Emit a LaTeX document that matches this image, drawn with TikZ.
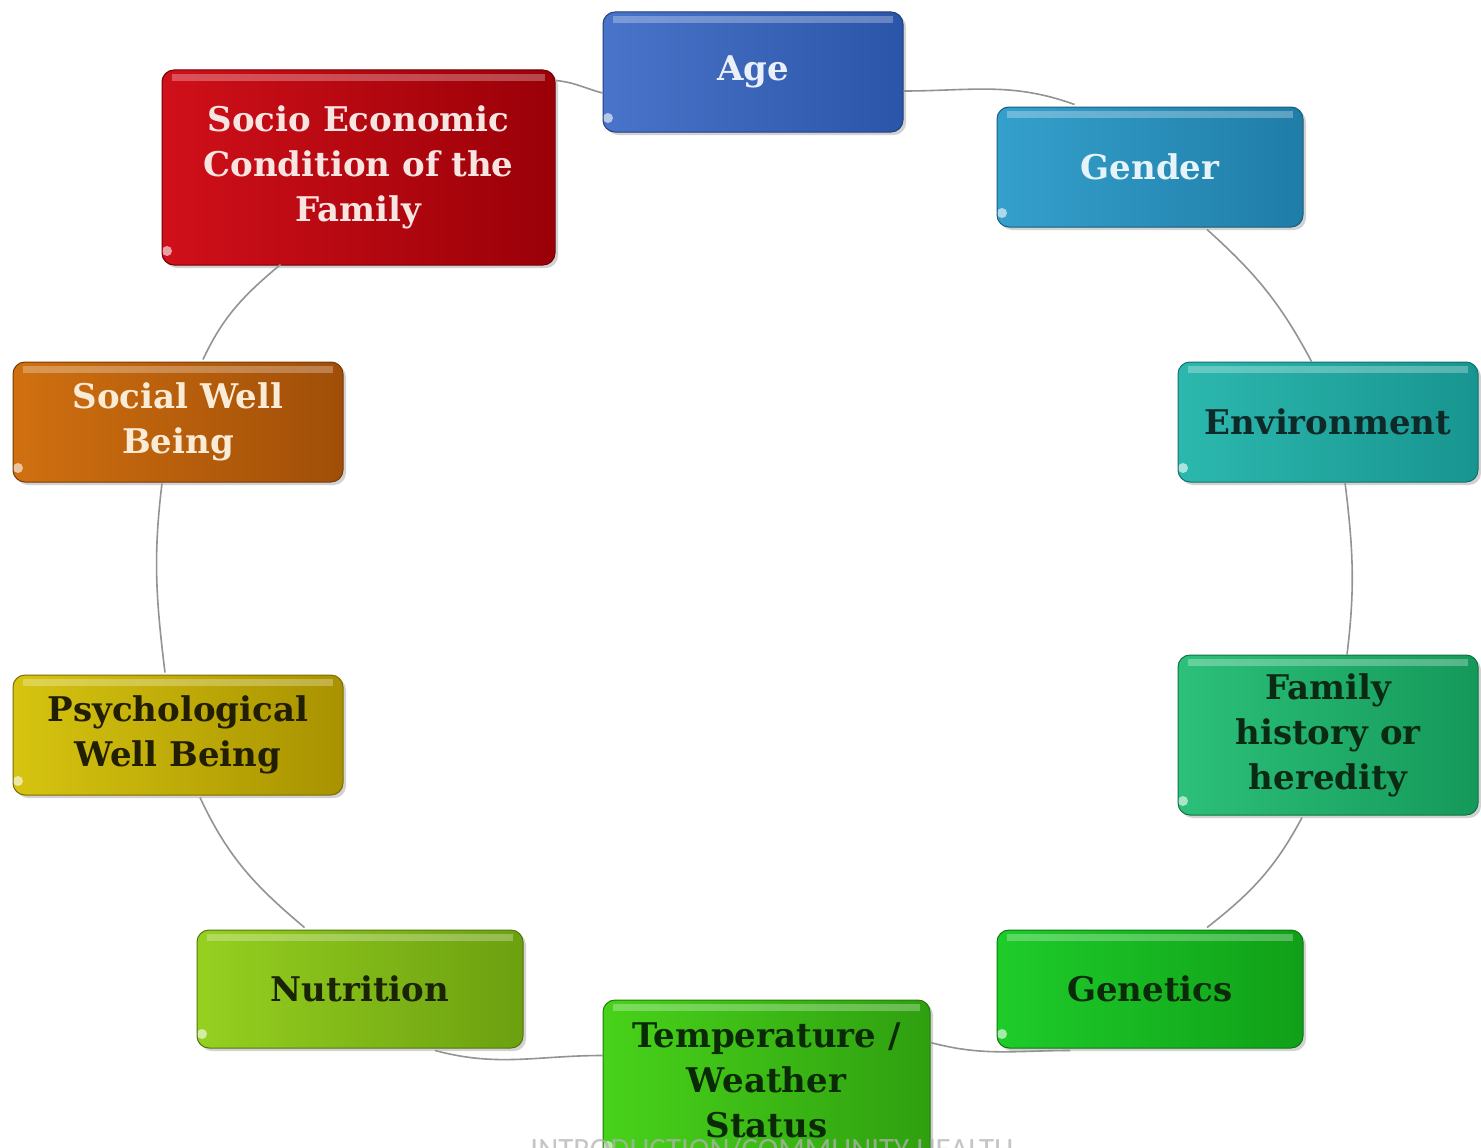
\documentclass[tikz,border=0pt]{standalone}
\usepackage{fontspec}
\setmainfont{DejaVu Serif}
\newfontfamily\calib{Carlito}
\usetikzlibrary{shadows,calc}
\definecolor{ageA}{HTML}{4A74C9}\definecolor{ageB}{HTML}{2B55A8}\definecolor{ageT}{HTML}{EAF0FA}
\definecolor{genA}{HTML}{35A0CC}\definecolor{genB}{HTML}{1F7DA8}\definecolor{genT}{HTML}{E6F4FA}
\definecolor{envA}{HTML}{2CB8AE}\definecolor{envB}{HTML}{189590}\definecolor{envT}{HTML}{0E2A28}
\definecolor{famA}{HTML}{2CC07A}\definecolor{famB}{HTML}{15995A}\definecolor{famT}{HTML}{0A2A14}
\definecolor{gntA}{HTML}{1ECC2A}\definecolor{gntB}{HTML}{10A018}\definecolor{gntT}{HTML}{0A2A0A}
\definecolor{tmpA}{HTML}{48D21A}\definecolor{tmpB}{HTML}{2FA010}\definecolor{tmpT}{HTML}{0A2A05}
\definecolor{nutA}{HTML}{96D020}\definecolor{nutB}{HTML}{6CA010}\definecolor{nutT}{HTML}{1A2405}
\definecolor{psyA}{HTML}{D6C410}\definecolor{psyB}{HTML}{A89200}\definecolor{psyT}{HTML}{221E02}
\definecolor{socA}{HTML}{D07010}\definecolor{socB}{HTML}{A04E08}\definecolor{socT}{HTML}{FAEBD7}
\definecolor{seA}{HTML}{D0101A}\definecolor{seB}{HTML}{9A0008}\definecolor{seT}{HTML}{F8E4E0}
\tikzset{
  cbox/.style n args={3}{rounded corners=12pt, left color=#1, right color=#2,
    draw=#2!75!black, line width=1pt, text=#3, align=center, inner sep=0pt,
    font=\bfseries\fontsize{34}{45}\selectfont,
    drop shadow={opacity=0.35, shadow xshift=3pt, shadow yshift=-3pt},
    path picture={
      \fill[white,opacity=0.28,sharp corners] ($(path picture bounding box.north west)+(10,4)$)
        rectangle ($(path picture bounding box.north east)+(-10,11)$);
      \fill[white,opacity=0.6] ($(path picture bounding box.south west)+(5,-14)$)
        circle[radius=5pt];
    }},
  link/.style={draw=gray!85, line width=1.6pt}
}
\begin{document}
\begin{tikzpicture}[x=1pt,y=-1pt]
\useasboundingbox (0,0) rectangle (1481,1148);
\fill[white] (0,0) rectangle (1481,1148);

\node[cbox={ageA}{ageB}{ageT}, minimum width=300pt, minimum height=120pt] (age) at (753,72) {Age};
\node[cbox={genA}{genB}{genT}, minimum width=306pt, minimum height=120pt] (gender) at (1150,167) {Gender};
\node[cbox={envA}{envB}{envT}, minimum width=300pt, minimum height=120pt] (env) at (1328,422) {Environment};
\node[cbox={famA}{famB}{famT}, minimum width=300pt, minimum height=160pt] (fam) at (1328,735) {Family\\history or\\heredity};
\node[cbox={gntA}{gntB}{gntT}, minimum width=306pt, minimum height=118pt] (gen) at (1150,989) {Genetics};
\node[cbox={tmpA}{tmpB}{tmpT}, minimum width=327pt, minimum height=160pt] (temp) at (766.5,1080) {Temperature /\\Weather\\Status};
\node[cbox={nutA}{nutB}{nutT}, minimum width=326pt, minimum height=118pt] (nut) at (360,989) {Nutrition};
\node[cbox={psyA}{psyB}{psyT}, minimum width=330pt, minimum height=120pt] (psy) at (178,735) {Psychological\\Well Being};
\node[cbox={socA}{socB}{socT}, minimum width=330pt, minimum height=120pt] (soc) at (178,422) {Social Well\\Being};
\node[cbox={seA}{seB}{seT}, minimum width=393pt, minimum height=195pt] (socio) at (358.5,167.5) {Socio Economic\\Condition of the\\Family};

\draw[link] ($(socio.north east)+(0,11)$) to[out=-5,in=165] ($(age.west)+(0,21)$);
\draw[link] ($(age.east)+(0,19)$) to[out=0,in=160] ($(gender.north west)+(78,-2)$);
\draw[link] ($(gender.south)+(57,2)$) to[out=-42,in=118] ($(env.north west)+(134,0)$);
\draw[link] ($(env.south)+(17,0)$) to[out=-83,in=83] ($(fam.north)+(19,0)$);
\draw[link] ($(fam.south)+(-26,2)$) to[out=-118,in=38] ($(gen.north)+(57,-2)$);
\draw[link] ($(gen.south)+(-80,2)$) to[out=180,in=-15] ($(temp.north east)+(0,43)$);
\draw[link] ($(temp.north west)+(0,56)$) to[out=180,in=-15] ($(nut.south)+(75,2)$);
\draw[link] ($(nut.north west)+(108,-2)$) to[out=140,in=-65] ($(psy.south)+(22,2)$);
\draw[link] ($(psy.north)+(-13,-2)$) to[out=97,in=-97] ($(soc.south)+(-16,1)$);
\draw[link] ($(soc.north)+(25,-2)$) to[out=65,in=-140] ($(socio.south)+(-78,-1)$);

\node[anchor=base, text=gray!60, opacity=0.75, inner sep=0pt, font=\calib\fontsize{31}{32}\selectfont] (foot) at (772,1159) {INTRODUCTION/COMMUNITY HEALTH};
\end{tikzpicture}
\end{document}
